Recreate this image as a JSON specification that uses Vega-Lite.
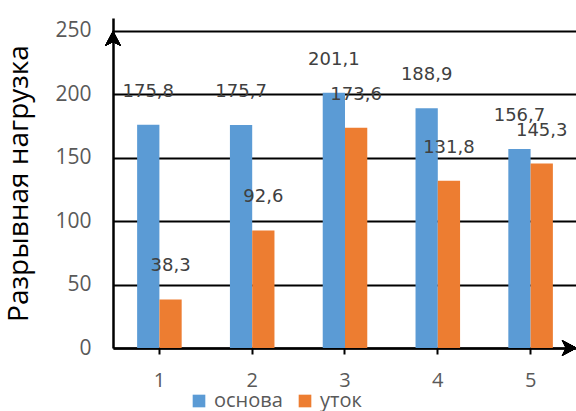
{
  "$schema": "https://vega.github.io/schema/vega-lite/v6.json",
  "width": 464,
  "height": 330,
  "autosize": {"type": "none"},
  "padding": {"left": 113, "top": 18, "right": 0, "bottom": 63},
  "background": "white",
  "config": {
    "view": {"stroke": null},
    "font": "Open Sans",
    "locale": {"number": {"decimal": ",", "thousands": " ", "grouping": [3], "currency": ["", ""]}}
  },
  "data": {
    "values": [
      {"sample": "1", "series": "основа", "load": 175.8},
      {"sample": "1", "series": "уток", "load": 38.3},
      {"sample": "2", "series": "основа", "load": 175.7},
      {"sample": "2", "series": "уток", "load": 92.6},
      {"sample": "3", "series": "основа", "load": 201.1},
      {"sample": "3", "series": "уток", "load": 173.6},
      {"sample": "4", "series": "основа", "load": 188.9},
      {"sample": "4", "series": "уток", "load": 131.8},
      {"sample": "5", "series": "основа", "load": 156.7},
      {"sample": "5", "series": "уток", "load": 145.3}
    ]
  },
  "layer": [
    {
      "mark": {"type": "bar"},
      "encoding": {
        "x": {
          "field": "sample",
          "type": "ordinal",
          "scale": {"paddingInner": 0.52, "paddingOuter": 0.26},
          "axis": {
            "title": null,
            "labelAngle": 0,
            "domainColor": "black",
            "domainWidth": 2.5,
            "tickColor": "black",
            "tickWidth": 2,
            "tickSize": 6,
            "labelFontSize": 20,
            "labelColor": "#595959",
            "labelPadding": 16
          }
        },
        "xOffset": {"field": "series", "type": "nominal", "sort": ["основа", "уток"]},
        "y": {
          "field": "load",
          "type": "quantitative",
          "scale": {"domain": [0, 250]},
          "axis": {
            "values": [0, 50, 100, 150, 200, 250],
            "grid": true,
            "gridColor": "black",
            "gridWidth": 2,
            "gridOpacity": 1,
            "domainColor": "black",
            "domainWidth": 2.5,
            "ticks": false,
            "tickSize": 0,
            "labelFontSize": 21,
            "labelColor": "#595959",
            "labelPadding": 22,
            "title": "Разрывная нагрузка",
            "titleFontSize": 28,
            "titleFontWeight": "normal",
            "titleColor": "black",
            "titlePadding": 21
          }
        },
        "color": {
          "field": "series",
          "type": "nominal",
          "scale": {"domain": ["основа", "уток"], "range": ["#5B9BD5", "#ED7D31"]},
          "legend": {
            "title": null,
            "orient": "none",
            "direction": "horizontal",
            "legendX": 76,
            "legendY": 373,
            "padding": 0,
            "symbolType": "square",
            "symbolSize": 160,
            "symbolStrokeWidth": 0,
            "labelFontSize": 20,
            "labelColor": "#595959",
            "labelOffset": 5,
            "columnPadding": 12
          }
        }
      }
    },
    {
      "mark": {"type": "text", "dy": -33, "fontSize": 18, "font": "DejaVu Sans", "color": "#404040"},
      "encoding": {
        "x": {"field": "sample", "type": "ordinal"},
        "xOffset": {"field": "series", "type": "nominal", "sort": ["основа", "уток"]},
        "y": {"field": "load", "type": "quantitative"},
        "text": {"field": "load", "type": "quantitative", "format": ".1f"}
      }
    },
    {
      "mark": {"type": "point", "shape": "M0,0L1,1.9L0,1.4L-1,1.9Z", "size": 256, "filled": true, "color": "black", "opacity": 1},
      "encoding": {
        "x": {"value": 0},
        "y": {"datum": 250, "type": "quantitative"}
      }
    },
    {
      "mark": {"type": "point", "shape": "M0,0L-1.9,1L-1.4,0L-1.9,-1Z", "size": 256, "filled": true, "color": "black", "opacity": 1},
      "encoding": {
        "x": {"value": "width"},
        "y": {"datum": 0, "type": "quantitative"}
      }
    }
  ]
}
